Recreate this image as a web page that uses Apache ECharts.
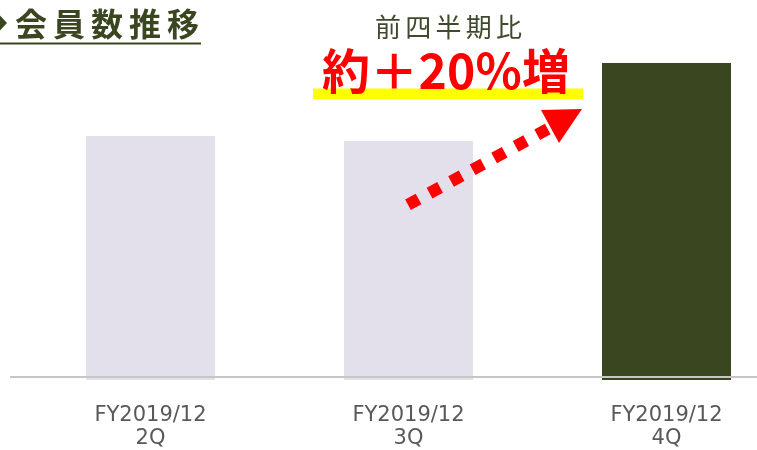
<!DOCTYPE html>
<html><head><meta charset="utf-8">
<script src="https://cdn.jsdelivr.net/npm/echarts@6/dist/echarts.min.js"></script>
<style>html,body{margin:0;padding:0;background:#fff}#c{width:757px;height:450px}</style>
</head><body><div id="c"></div>
<script>
const categories = ['FY2019/12\n2Q', 'FY2019/12\n3Q', 'FY2019/12\n4Q'];
const memberValues = [24.4, 23.9, 31.7];
const barColors = ['#e3dfeb', '#e3dfeb', '#3a461f'];
const titleText = '会員数推移';
const subText = '前四半期比';
const growthText = '約＋20%増';

const cv = document.createElement('canvas').getContext('2d');
function spaced(str, font, x0, x1, yc, fill, z) {
  cv.font = font;
  const chars = Array.from(str);
  const w = chars.map(c => cv.measureText(c).width);
  const nat = w.reduce((a, b) => a + b, 0);
  const sp = chars.length > 1 ? ((x1 - x0) - nat) / (chars.length - 1) : 0;
  let x = x0;
  return chars.map((c, i) => {
    const el = {type: 'text', x: x, y: yc, z: z || 10,
      style: {text: c, font: font, fill: fill, textAlign: 'left', textVerticalAlign: 'middle'}};
    x += w[i] + sp;
    return el;
  });
}

const chart = echarts.init(document.getElementById('c'), null, {renderer: 'canvas'});
const graphics = [].concat(
  [{type: 'polygon', z: 10, shape: {points: [[-8, 23], [0, 15.5], [7, 23], [0, 30.5]]}, style: {fill: '#3a461f'}}],
  spaced(titleText, 'bold 32px "Noto Sans CJK JP"', 15, 199, 24, '#3a461f'),
  [{type: 'rect', z: 10, shape: {x: 0, y: 42.5, width: 201, height: 2}, style: {fill: '#3a461f'}}],
  spaced(subText, '26px "Noto Sans CJK JP"', 375, 522, 27, '#3f4a2c'),
  [{type: 'rect', z: 9, shape: {x: 313, y: 88.5, width: 270, height: 10.5}, style: {fill: '#ffff00'}}],
  spaced(growthText, 'bold 48px "Noto Sans CJK JP"', 322, 570, 71, '#ff0000', 11),
  [{type: 'line', z: 10, shape: {x1: 408, y1: 204.8, x2: 548, y2: 128.8},
    style: {stroke: '#ff0000', lineWidth: 12, lineDash: [12, 12.5], lineCap: 'butt'}},
   {type: 'polygon', z: 10, shape: {points: [[541, 110], [582, 109], [559, 143]]}, style: {fill: '#ff0000'}},
   {type: 'line', z: 20, shape: {x1: 10, y1: 377, x2: 757, y2: 377}, style: {stroke: '#c6c6c6', lineWidth: 2}}]
);

chart.setOption({
  animation: false,
  grid: {left: 21.5, width: 774, top: 63, bottom: 70, containLabel: false, outerBoundsMode: 'none'},
  xAxis: {
    type: 'category', data: categories,
    axisLine: {show: false}, axisTick: {show: false},
    axisLabel: {margin: 24, color: '#595959', fontSize: 21, lineHeight: 23, fontFamily: 'DejaVu Sans'}
  },
  yAxis: {type: 'value', min: 0, max: 31.7, show: false, splitLine: {show: false}},
  series: [{
    type: 'bar', barWidth: 129,
    data: memberValues.map((v, i) => ({value: v, itemStyle: {color: barColors[i]}}))
  }],
  graphic: graphics
});
</script></body></html>
